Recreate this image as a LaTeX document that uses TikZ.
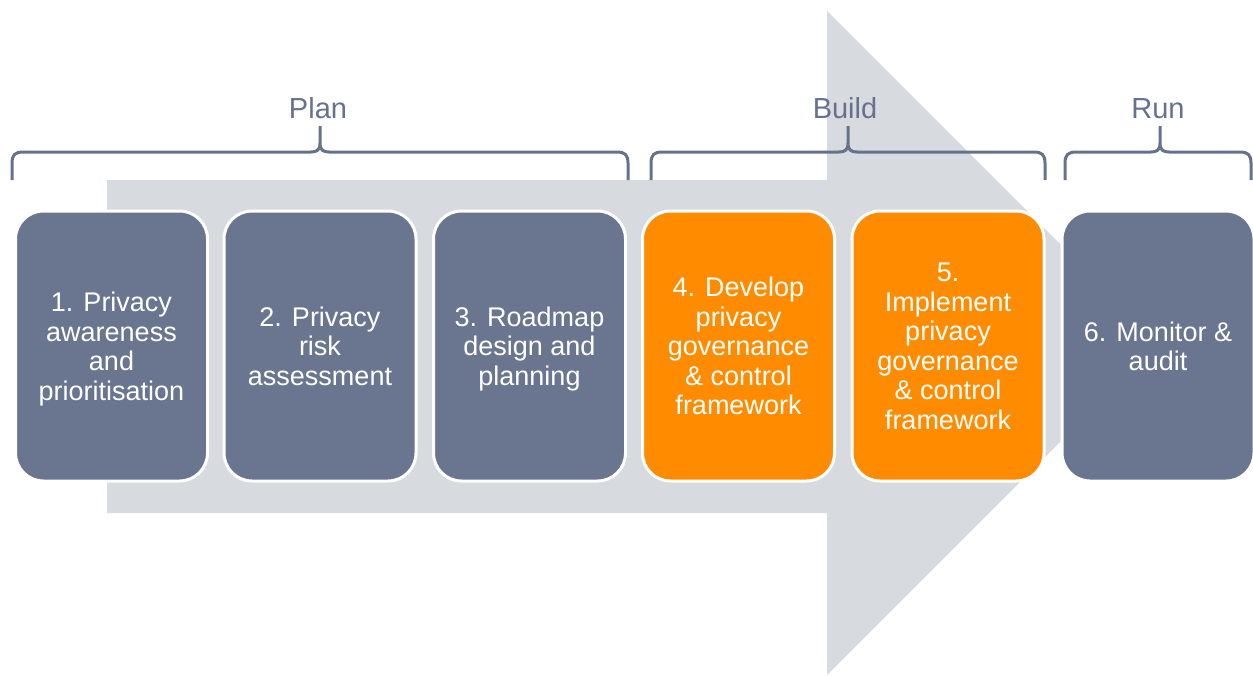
\documentclass[tikz,border=0pt]{standalone}
\usepackage{fontspec}
\setmainfont{Liberation Sans}
\definecolor{stepgrey}{HTML}{6A758F}
\definecolor{steporange}{HTML}{FF8C00}
\definecolor{arrowgrey}{HTML}{D7DADF}
\definecolor{bracegrey}{HTML}{66718B}
\tikzset{
  stagebox/.style={draw=white, line width=3pt, rounded corners=28pt,
    minimum width=192pt, minimum height=270pt, inner sep=0pt,
    align=center, text=white, text depth=0pt,
    font=\fontsize{27pt}{29.5pt}\selectfont},
  greybox/.style={stagebox, fill=stepgrey},
  orangebox/.style={stagebox, fill=steporange},
  bracestyle/.style={draw=bracegrey, line width=3pt},
  phaselabel/.style={text=bracegrey, anchor=base, inner sep=0pt,
    font=\fontsize{29pt}{33pt}\selectfont}
}
% phase brace: left end, tip, right end (x positions)
\newcommand\phasebrace[3]{%
  \draw[bracestyle] (#1,180) -- (#1,163)
    .. controls (#1,155) and (#1+3,152) .. (#1+11,152) -- (#2-9,152)
    .. controls (#2-3,152) and (#2,150) .. (#2,143) -- (#2,126)
    (#2,143) .. controls (#2,150) and (#2+3,152) .. (#2+9,152) -- (#3-11,152)
    .. controls (#3-3,152) and (#3,155) .. (#3,163) -- (#3,180);}
\begin{document}
\begin{tikzpicture}[x=1pt,y=-1pt]
\useasboundingbox (0,0) rectangle (1253,675);
% large background arrow
\fill[arrowgrey] (107,180) -- (827,180) -- (827,11) -- (1159,343)
  -- (827,675) -- (827,513) -- (107,513) -- cycle;
% phase braces and labels
\phasebrace{12}{320}{628}
\phasebrace{651}{848}{1045}
\phasebrace{1065}{1160}{1251}
\node[phaselabel] (plan) at (318,118) {Plan};
\node[phaselabel] (build) at (845,118) {Build};
\node[phaselabel] (run) at (1158,118) {Run};
% stage boxes
\node[greybox] (s1) at (111.5,346) {1. Privacy\\awareness\\and\\prioritisation};
\node[greybox] (s2) at (320,346) {2. Privacy\\risk\\assessment};
\node[greybox] (s3) at (529.5,346) {3. Roadmap\\design and\\planning};
\node[orangebox] (s4) at (738.5,346) {4. Develop\\privacy\\governance\\\& control\\framework};
\node[orangebox] (s5) at (948,346) {5.\\Implement\\privacy\\governance\\\& control\\framework};
\node[greybox] (s6) at (1158,346) {6. Monitor \&\\audit};
\end{tikzpicture}
\end{document}
